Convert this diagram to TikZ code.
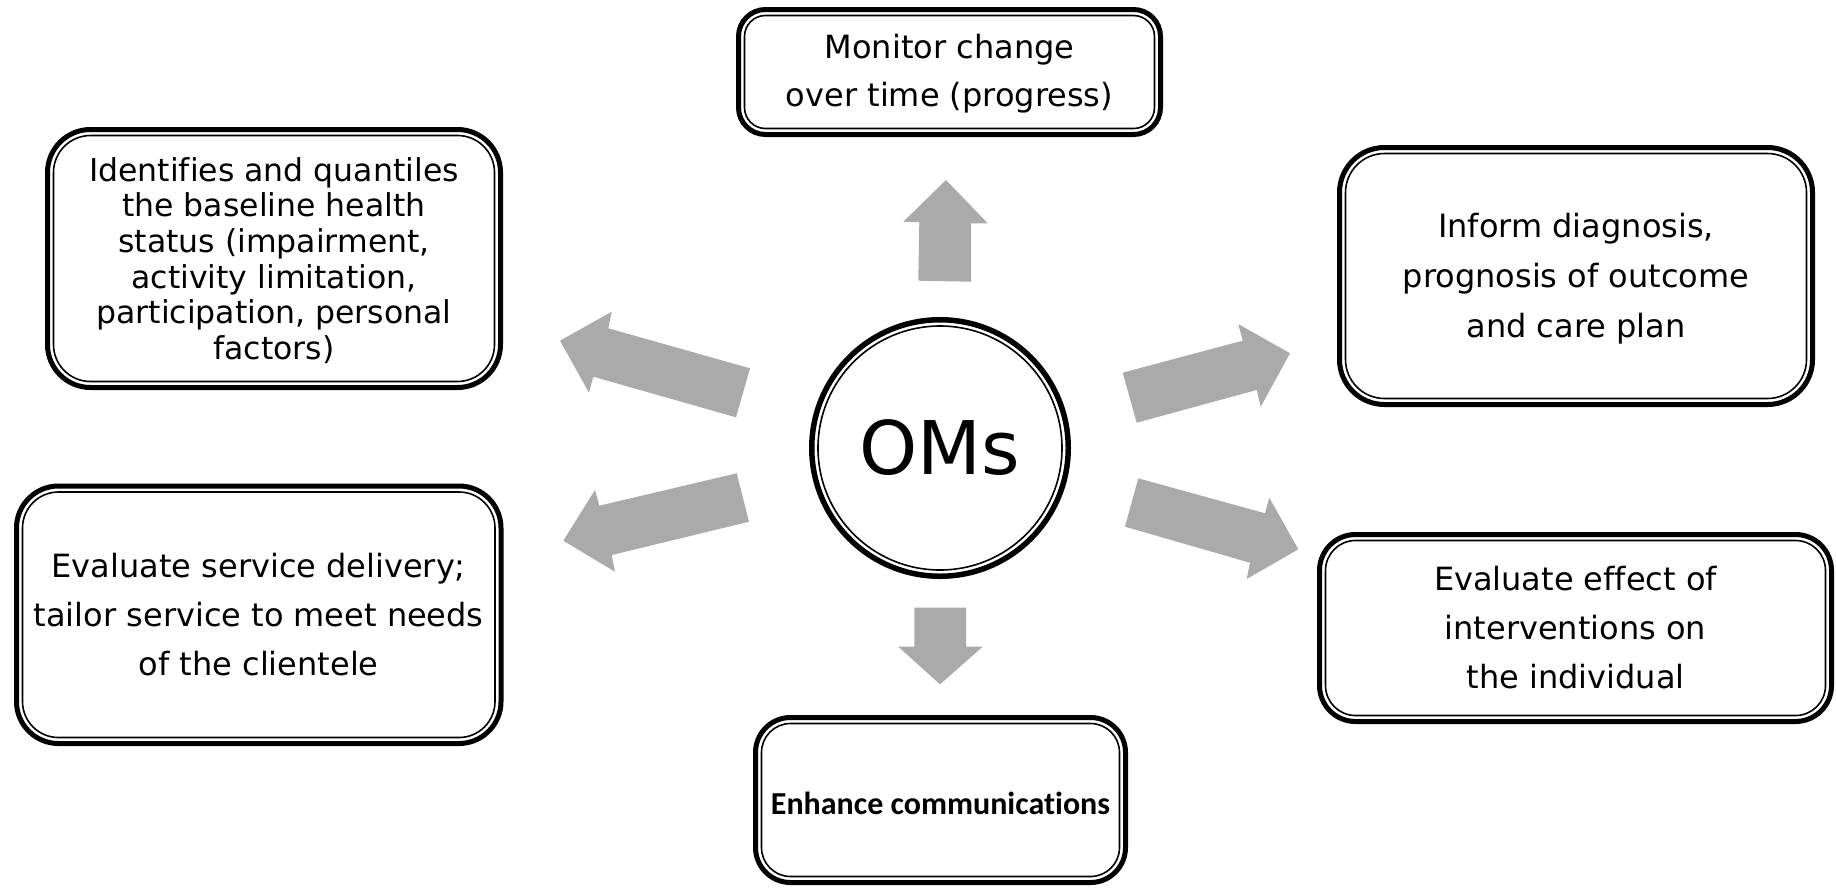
\documentclass[tikz,border=0pt]{standalone}
\usepackage{fontspec}
\setmainfont[Ligatures={NoCommon}]{DejaVu Sans}
\newfontfamily\calfont[Ligatures={NoCommon}]{Carlito}
\usetikzlibrary{calc}
\definecolor{arrowgray}{RGB}{170,170,170}
\tikzset{
  obox/.style={draw=black, line width=5pt, rounded corners=#1, inner sep=0pt, outer sep=0pt, align=center, fill=white},
  iline/.style={draw=black, line width=1.6pt},
  garrow/.style={fill=arrowgray, draw=none},
  txt/.style={font=\fontsize{32}{49}\selectfont},
}
\begin{document}
\begin{tikzpicture}[x=1pt,y=-1pt]
\useasboundingbox (0,0) rectangle (1836,887);

% boxes
\node[obox=27, minimum width=422pt, minimum height=125pt] (top) at (949.5,72) {};
\node[font=\fontsize{32}{48}\selectfont, align=center, inner sep=0pt] (toptxt) at (949.5,74) {Monitor change\\over time (progress)};
\draw[iline, rounded corners=21] ($(top.north west)+(6,6)$) rectangle ($(top.south east)+(-6,-6)$);

\node[obox=43, minimum width=453pt, minimum height=258pt] (ul) at (274,258.5) {};
\node[font=\fontsize{31.5}{35.6}\selectfont, align=center, inner sep=0pt] (ultxt) at (274,260.5) {Identifies and quantiles\\the baseline health\\status (impairment,\\activity limitation,\\participation, personal\\factors)};
\draw[iline, rounded corners=37] ($(ul.north west)+(6,6)$) rectangle ($(ul.south east)+(-6,-6)$);

\node[obox=45, minimum width=473pt, minimum height=257pt] (ru) at (1576,276) {};
\node[font=\fontsize{32}{50}\selectfont, align=center, inner sep=0pt] (rutxt) at (1576,279) {Inform diagnosis,\\prognosis of outcome\\and care plan};
\draw[iline, rounded corners=39] ($(ru.north west)+(6,6)$) rectangle ($(ru.south east)+(-6,-6)$);

\node[obox=42, txt, minimum width=484.5pt, minimum height=257.5pt] (ll) at (258.75,614.75) {Evaluate service delivery;\\tailor service to meet needs\\of the clientele};
\draw[iline, rounded corners=36] ($(ll.north west)+(6,6)$) rectangle ($(ll.south east)+(-6,-6)$);

\node[obox=36, txt, minimum width=512pt, minimum height=187pt] (rl) at (1575.5,628) {Evaluate effect of\\interventions on\\the individual};
\draw[iline, rounded corners=30] ($(rl.north west)+(6,6)$) rectangle ($(rl.south east)+(-6,-6)$);

\node[obox=35, minimum width=370pt, minimum height=165pt] (bot) at (940.5,800) {};
\node[font=\calfont\bfseries\fontsize{32}{38}\selectfont, inner sep=0pt] (bottxt) at (940.5,803) {Enhance communications};
\draw[iline, rounded corners=29] ($(bot.north west)+(6,6)$) rectangle ($(bot.south east)+(-6,-6)$);

% centre circle
\node[circle, draw=black, line width=5.5pt, minimum size=256.5pt, inner sep=0pt, outer sep=0pt, fill=white, font=\fontsize{74}{80}\selectfont] (oms) at (940,448) {OMs};
\draw[iline] (oms.center) circle[radius=122];

% block arrows
\path[garrow] (946,180) -- (987.7,223.3) -- (971,223.3) -- (971,281.7) -- (918.3,280.7) -- (919.3,222.3) -- (903.3,221.7) -- cycle;
\path[garrow] (914.3,607.7) -- (966,607.7) -- (966,646.7) -- (982.7,646.7) -- (940,684.3) -- (898.3,646.7) -- (914.3,646.7) -- cycle;
\path[garrow] (1122.7,372.7) -- (1242.7,340.7) -- (1238.3,324) -- (1290,353.3) -- (1260.7,406.7) -- (1256.7,390) -- (1136.7,422.7) -- cycle;
\path[garrow] (1138.3,478.3) -- (1265,513.3) -- (1269.3,497.7) -- (1298.3,549.3) -- (1246.7,579) -- (1250,562.7) -- (1125,526.7) -- cycle;
\path[garrow] (560,340.7) -- (611.7,311.7) -- (608.3,328.3) -- (750,368.3) -- (736,417.3) -- (593.3,376.7) -- (589,392.7) -- cycle;
\path[garrow] (563.3,540.7) -- (595,490) -- (599.3,505.7) -- (736.7,473.3) -- (749,521.7) -- (611.7,555) -- (615,571.7) -- cycle;
\end{tikzpicture}
\end{document}
